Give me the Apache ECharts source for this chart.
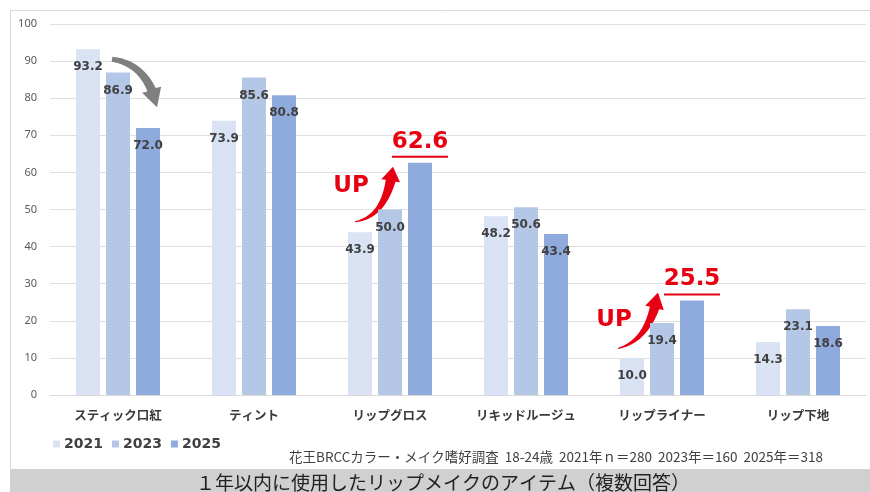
<!DOCTYPE html>
<html>
<head>
<meta charset="utf-8">
<script src="https://cdn.jsdelivr.net/npm/echarts@6/dist/echarts.min.js"></script>
<style>
  html, body { margin: 0; padding: 0; background: #fff; }
  #chart { width: 870px; height: 492px; }
</style>
</head>
<body>
<div id="chart"></div>
<script>
// data
const categories = ["スティック口紅", "ティント", "リップグロス", "リキッドルージュ", "リップライナー", "リップ下地"];
const years = ["2021", "2023", "2025"];
const v2021 = [93.2, 73.9, 43.9, 48.2, 10.0, 14.3];
const v2023 = [86.9, 85.6, 50.0, 50.6, 19.4, 23.1];
const v2025 = [72.0, 80.8, 62.6, 43.4, 25.5, 18.6];
const yMin = 0;
const yMax = 100;
const yStep = 10;
const upIdx = [2, 4];   // categories where 2025 is marked "UP"
const downIdx = [0];    // category with the grey down arrow
const sourceNote = "花王BRCCカラー・メイク嗜好調査  18-24歳  2021年ｎ＝280  2023年＝160  2025年＝318";
const footTitle = "１年以内に使用したリップメイクのアイテム（複数回答）";

const colors = ["#dae3f3", "#b4c7e7", "#8faadc"];
const RED = "#e60012";
const LABEL_FONT = "DejaVu Sans";
const JP_FONT = "'Noto Sans CJK JP', 'Noto Sans', sans-serif";

const chart = echarts.init(document.getElementById("chart"));

function plainLabel() {
  return {
    show: true,
    position: "insideTop",
    distance: 12,
    fontFamily: LABEL_FONT,
    fontWeight: "bold",
    fontSize: 12,
    color: "#404040",
    formatter: p => p.value.toFixed(1)
  };
}

// highlighted 2025 values get a big red underlined label above the bar
function bigLabel() {
  return {
    show: true,
    position: "top",
    distance: 4,
    formatter: p => "{v|" + p.value.toFixed(1) + "}\n{u|}",
    rich: {
      v: { fontFamily: LABEL_FONT, fontWeight: "bold", fontSize: 23, color: RED, lineHeight: 26, align: "center" },
      u: { width: 56, height: 2, backgroundColor: RED, lineHeight: 4, align: "center" }
    }
  };
}

const seriesValues = [v2021, v2023, v2025];
const series = years.map((y, s) => ({
  name: y,
  type: "bar",
  barWidth: 24,
  barGap: "25%",
  itemStyle: { color: colors[s] },
  label: plainLabel(),
  data: seriesValues[s].map((v, i) =>
    s === 2 && upIdx.indexOf(i) >= 0 ? { value: v, label: bigLabel() } : v)
}));

chart.setOption({
  animation: false,
  textStyle: { fontFamily: JP_FONT },
  grid: { left: 50, right: 4, top: 24, bottom: 97 },
  legend: {
    data: years,
    left: 48,
    top: 432,
    icon: "rect",
    itemWidth: 7,
    itemHeight: 7,
    itemGap: 9,
    textStyle: { fontFamily: LABEL_FONT, fontWeight: "bold", fontSize: 14, color: "#404040", padding: [0, 0, 0, -1] }
  },
  xAxis: {
    type: "category",
    data: categories,
    axisLine: { lineStyle: { color: "#d9d9d9" } },
    axisTick: { show: false },
    axisLabel: { fontSize: 12.5, fontWeight: "bold", color: "#3a3a3a", margin: 14, fontFamily: JP_FONT }
  },
  yAxis: {
    type: "value",
    min: yMin,
    max: yMax,
    interval: yStep,
    axisLine: { show: false },
    axisTick: { show: false },
    axisLabel: { fontSize: 11, color: "#595959", margin: 13, fontFamily: "'Noto Sans', sans-serif" },
    splitLine: { lineStyle: { color: "#e0e0e0" } }
  },
  series: series
});

// curved arrow as one polygon: quadratic curve, tapering shaft, triangle head
function arrowPoints(p0, c, p2, w0, w1, headLen, headW) {
  const N = 40, pts = [], len = [0];
  for (let i = 0; i <= N; i++) {
    const t = i / N, u = 1 - t;
    pts.push([u * u * p0[0] + 2 * u * t * c[0] + t * t * p2[0],
              u * u * p0[1] + 2 * u * t * c[1] + t * t * p2[1]]);
    if (i > 0) len.push(len[i - 1] + Math.hypot(pts[i][0] - pts[i - 1][0], pts[i][1] - pts[i - 1][1]));
  }
  const shaftEnd = len[N] - headLen;
  const left = [], right = [];
  let k = 0;
  for (let i = 0; i <= N && len[i] <= shaftEnd; i++) {
    k = i;
    const a = pts[Math.max(i - 1, 0)], b = pts[Math.min(i + 1, N)];
    const dx = b[0] - a[0], dy = b[1] - a[1], d = Math.hypot(dx, dy);
    const nx = -dy / d, ny = dx / d;
    const w = (w0 + (w1 - w0) * len[i] / shaftEnd) / 2;
    left.push([pts[i][0] + nx * w, pts[i][1] + ny * w]);
    right.push([pts[i][0] - nx * w, pts[i][1] - ny * w]);
  }
  const base = pts[k];
  const dx = p2[0] - base[0], dy = p2[1] - base[1], d = Math.hypot(dx, dy);
  const nx = -dy / d, ny = dx / d;
  const hl = [base[0] + nx * headW / 2, base[1] + ny * headW / 2];
  const hr = [base[0] - nx * headW / 2, base[1] - ny * headW / 2];
  return left.concat([hl, p2, hr], right.reverse());
}

function px(i, v) {
  return chart.convertToPixel({ xAxisIndex: 0, yAxisIndex: 0 }, [i, v]);
}
function off(o, d) { return [o[0] + d[0], o[1] + d[1]]; }

// offsets (pixels) from category centre / 2025 bar top
const upShapes = [
  { tail: [-35, 59], ctrl: [-3, 54], tip: [3, 4], up: [-39, 23] },
  { tail: [-44, 48], ctrl: [-12, 40], tip: [-4, -8], up: [-48, 20] }
];

const graphics = [
  // outer frame and bottom title band
  { type: "rect", z: -10, silent: true, shape: { x: 10.5, y: 10.5, width: 870, height: 470 },
    style: { fill: null, stroke: "#d9d9d9", lineWidth: 1 } },
  { type: "rect", z: 10, silent: true, shape: { x: 10, y: 469, width: 860, height: 23 },
    style: { fill: "#d0d0d0" } },
  { type: "text", z: 11, silent: true, x: 443, y: 483,
    style: { text: footTitle, font: "19px " + JP_FONT, fill: "#222", align: "center", verticalAlign: "middle" } },
  { type: "text", silent: true, x: 823, y: 457,
    style: { text: sourceNote, font: "13.5px " + JP_FONT, fill: "#404040", align: "right", verticalAlign: "middle" } }
];

upIdx.forEach((i, n) => {
  const o = px(i, v2025[i]);
  const s = upShapes[n];
  graphics.push({
    type: "polygon", silent: true,
    shape: { points: arrowPoints(off(o, s.tail), off(o, s.ctrl), off(o, s.tip), 1, 10, 14, 19) },
    style: { fill: RED }
  });
  const u = off(o, s.up);
  graphics.push({
    type: "text", silent: true, x: u[0], y: u[1],
    style: { text: "UP", font: "bold 23px " + LABEL_FONT, fill: RED, align: "center", verticalAlign: "middle" }
  });
});

downIdx.forEach(i => {
  const o = px(i, v2021[i]);
  graphics.push({
    type: "polygon", silent: true,
    shape: { points: arrowPoints(off(o, [-6, 10]), off(o, [30, 15]), off(o, [39, 58]), 5, 9, 17, 20) },
    style: { fill: "#7f7f7f" }
  });
});

chart.setOption({ graphic: graphics });
</script>
</body>
</html>
